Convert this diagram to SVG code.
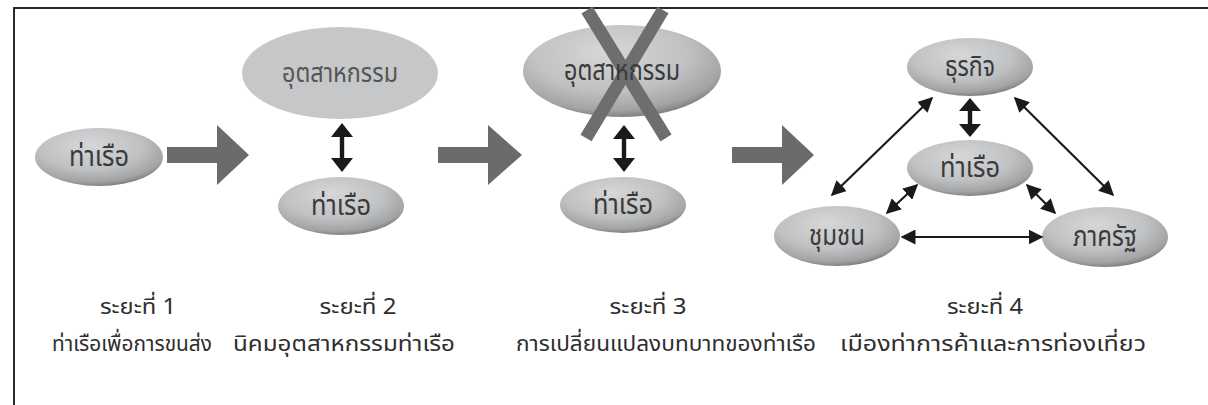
<svg xmlns="http://www.w3.org/2000/svg" width="1208" height="405" viewBox="0 0 1208 405">
  <defs>
    <radialGradient id="shade" cx="0.45" cy="0.35" r="0.72" fx="0.42" fy="0.28">
      <stop offset="0" stop-color="#d6d7d9"/>
      <stop offset="0.55" stop-color="#c0c1c3"/>
      <stop offset="0.82" stop-color="#a2a3a5"/>
      <stop offset="0.94" stop-color="#787878"/>
      <stop offset="1" stop-color="#505050"/>
    </radialGradient>
    <marker id="ah" viewBox="0 0 10 10" refX="9" refY="5" markerWidth="15" markerHeight="15" markerUnits="userSpaceOnUse" orient="auto-start-reverse">
      <path d="M0,0 L10,5 L0,10 z" fill="#1a1a1a"/>
    </marker>
  </defs>
  <style>
    .node { fill: url(#shade); }
    .flat { fill: #c6c7c9; }
    .lbl { font-family: "Noto Sans Thai", "Noto Sans", sans-serif; font-size: 28px; fill: #3a3a3a; text-anchor: middle; }
    .lbl2 { font-family: "Noto Sans Thai", "Noto Sans", sans-serif; font-size: 27px; fill: #555555; text-anchor: middle; }
    .cap { font-family: "Noto Sans Thai", "Noto Sans", sans-serif; font-size: 22px; fill: #2e2e2e; text-anchor: middle; }
    .big { fill: #6b6b6b; }
    .thin { stroke: #1a1a1a; stroke-width: 2.2; fill: none; marker-start: url(#ah); marker-end: url(#ah); }
    .thick { fill: #1a1a1a; }
    .cross { stroke: #6e6e6e; stroke-width: 13; }
  </style>

  <rect x="14" y="8" width="1230" height="430" fill="#ffffff" stroke="#111111" stroke-width="1.8"/>

  <!-- Stage 1 -->
  <g id="s1-port">
    <ellipse class="node" cx="99" cy="157" rx="64" ry="29"/>
    <text class="lbl" x="99" y="166" textLength="60" lengthAdjust="spacingAndGlyphs">ท่าเรือ</text>
  </g>

  <!-- Stage 2 -->
  <g id="s2-industry">
    <ellipse class="flat" cx="340" cy="73" rx="98" ry="46"/>
    <text class="lbl2" x="340" y="82" textLength="116" lengthAdjust="spacingAndGlyphs">อุตสาหกรรม</text>
  </g>
  <g id="s2-port">
    <ellipse class="node" cx="341" cy="206" rx="63" ry="29"/>
    <text class="lbl" x="341" y="215" textLength="60" lengthAdjust="spacingAndGlyphs">ท่าเรือ</text>
  </g>

  <!-- Stage 3 -->
  <g id="s3-industry">
    <ellipse class="node" cx="622" cy="71" rx="99" ry="46"/>
    <line class="cross" x1="587" y1="10" x2="666" y2="138"/>
    <line class="cross" x1="663" y1="10" x2="586" y2="138"/>
    <text class="lbl" x="622" y="80" textLength="116" lengthAdjust="spacingAndGlyphs">อุตสาหกรรม</text>
  </g>
  <g id="s3-port">
    <ellipse class="node" cx="623" cy="205" rx="63" ry="28"/>
    <text class="lbl" x="623" y="214" textLength="60" lengthAdjust="spacingAndGlyphs">ท่าเรือ</text>
  </g>

  <!-- Stage 4 -->
  <g id="s4-business">
    <ellipse class="node" cx="970" cy="67" rx="63" ry="29"/>
    <text class="lbl" x="970" y="76" textLength="50" lengthAdjust="spacingAndGlyphs">ธุรกิจ</text>
  </g>
  <g id="s4-port">
    <ellipse class="node" cx="970" cy="168" rx="63" ry="28"/>
    <text class="lbl" x="970" y="177" textLength="60" lengthAdjust="spacingAndGlyphs">ท่าเรือ</text>
  </g>
  <g id="s4-community">
    <ellipse class="node" cx="837" cy="236" rx="63" ry="30"/>
    <text class="lbl" x="837" y="245" textLength="56" lengthAdjust="spacingAndGlyphs">ชุมชน</text>
  </g>
  <g id="s4-state">
    <ellipse class="node" cx="1105" cy="237" rx="63" ry="30"/>
    <text class="lbl" x="1105" y="246" textLength="64" lengthAdjust="spacingAndGlyphs">ภาครัฐ</text>
  </g>

  <!-- Connectors -->
  <g id="connectors">
    <path class="big" d="M167,147 H217 V125 L249,155 L217,185 V163 H167 z"/>
    <path class="big" d="M438,147 H488 V125 L522,155 L488,185 V163 H438 z"/>
    <path class="big" d="M732,147 H782 V125 L814,155 L782,185 V163 H732 z"/>
    <path class="thick" d="M342,123 L353,137 H344.2 V158 H353 L342,172 L331,158 H339.8 V137 H331 z"/>
    <path class="thick" d="M624,125 L635,139 H626.2 V158 H635 L624,172 L613,158 H621.8 V139 H613 z"/>
    <path class="thick" d="M970,98 L981,111 H972.2 V124 H981 L970,137 L959,124 H967.8 V111 H959 z"/>
    <line class="thin" x1="932" y1="98" x2="832" y2="195"/>
    <line class="thin" x1="1015" y1="98" x2="1113" y2="195"/>
    <line class="thin" x1="917" y1="185" x2="887" y2="213"/>
    <line class="thin" x1="1027" y1="185" x2="1055" y2="213"/>
    <line class="thin" x1="902" y1="237" x2="1042" y2="237"/>
  </g>

  <!-- Captions -->
  <g id="captions">
    <text class="cap" x="138" y="314" textLength="76" lengthAdjust="spacingAndGlyphs">ระยะที่ 1</text>
    <text class="cap" x="132" y="351" textLength="160" lengthAdjust="spacingAndGlyphs">ท่าเรือเพื่อการขนส่ง</text>
    <text class="cap" x="358" y="314" textLength="77" lengthAdjust="spacingAndGlyphs">ระยะที่ 2</text>
    <text class="cap" x="344" y="351" textLength="222" lengthAdjust="spacingAndGlyphs">นิคมอุตสาหกรรมท่าเรือ</text>
    <text class="cap" x="648" y="314" textLength="77" lengthAdjust="spacingAndGlyphs">ระยะที่ 3</text>
    <text class="cap" x="666" y="351" textLength="300" lengthAdjust="spacingAndGlyphs">การเปลี่ยนแปลงบทบาทของท่าเรือ</text>
    <text class="cap" x="985" y="314" textLength="76" lengthAdjust="spacingAndGlyphs">ระยะที่ 4</text>
    <text class="cap" x="993" y="351" textLength="306" lengthAdjust="spacingAndGlyphs">เมืองท่าการค้าและการท่องเที่ยว</text>
  </g>
</svg>
